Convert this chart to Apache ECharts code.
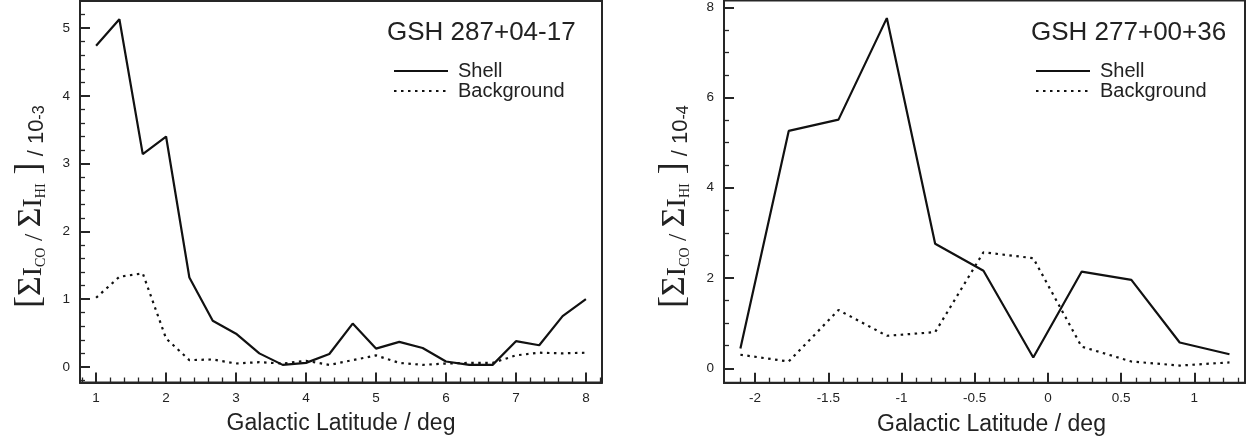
<!DOCTYPE html>
<html>
<head>
<meta charset="utf-8">
<script src="https://cdn.jsdelivr.net/npm/echarts@6/dist/echarts.min.js"></script>
<style>
html,body{margin:0;padding:0;background:#fff;}
#chart{width:1254px;height:444px;}
</style>
</head>
<body>
<div id="chart"></div>
<script>
// ---- Data: GSH 287+04-17 ----
const leftLatitude = [1, 1.333, 1.667, 2, 2.333, 2.667, 3, 3.333, 3.667, 4, 4.333, 4.667, 5, 5.333, 5.667, 6, 6.333, 6.667, 7, 7.333, 7.667, 8];
const leftShell = [4.74, 5.13, 3.14, 3.40, 1.32, 0.68, 0.49, 0.20, 0.03, 0.06, 0.19, 0.64, 0.27, 0.37, 0.28, 0.08, 0.03, 0.03, 0.38, 0.32, 0.75, 1.00];
const leftBackground = [1.02, 1.33, 1.38, 0.42, 0.10, 0.11, 0.05, 0.07, 0.05, 0.09, 0.03, 0.10, 0.17, 0.06, 0.03, 0.05, 0.06, 0.06, 0.17, 0.21, 0.20, 0.21];
const leftXTicks = [1, 2, 3, 4, 5, 6, 7, 8];
const leftYTicks = [0, 1, 2, 3, 4, 5];

// ---- Data: GSH 277+00+36 ----
const rightLatitude = [-2.1, -1.77, -1.43, -1.10, -0.77, -0.44, -0.10, 0.23, 0.57, 0.90, 1.24];
const rightShell = [0.44, 5.26, 5.51, 7.76, 2.76, 2.16, 0.24, 2.14, 1.96, 0.57, 0.31];
const rightBackground = [0.30, 0.15, 1.29, 0.72, 0.80, 2.57, 2.44, 0.48, 0.15, 0.06, 0.13];
const rightXTicks = [-2, -1.5, -1, -0.5, 0, 0.5, 1];
const rightYTicks = [0, 2, 4, 6, 8];

const titles = ['GSH 287+04-17', 'GSH 277+00+36'];
const seriesNames = ['Shell', 'Background'];
const xName = 'Galactic Latitude / deg';
const yExponents = ['-3', '-4'];

// ---- helpers (styling only) ----
function minorTicks(a, b, step, majorStep) {
  const out = [];
  const n = Math.round((b - a) / step);
  for (let i = 0; i <= n; i++) {
    const v = Math.round((a + i * step) * 1000) / 1000;
    const r = v / majorStep;
    if (Math.abs(r - Math.round(r)) > 1e-6) out.push(v);
  }
  return out;
}
const INK = '#111';
const FRAME = '#262626';
const TXT = '#222';
const SANS = '"Liberation Sans", Arial, Helvetica, sans-serif';
const SERIF = '"Liberation Serif", "Times New Roman", serif';

const richName = {
  br:   { fontFamily: SERIF, fontSize: 36, color: TXT, lineHeight: 47.8, verticalAlign: 'bottom' },
  sig:  { fontFamily: SERIF, fontSize: 34, color: TXT, lineHeight: 46.4, verticalAlign: 'bottom' },
  i:    { fontFamily: SERIF, fontSize: 28, color: TXT, lineHeight: 42.5, verticalAlign: 'bottom' },
  sub:  { fontFamily: SERIF, fontSize: 14, color: TXT, lineHeight: 29.2, verticalAlign: 'bottom' },
  sl:   { fontFamily: SERIF, fontSize: 26, color: TXT, lineHeight: 41.2, verticalAlign: 'bottom' },
  sans: { fontFamily: SANS, fontSize: 22, color: TXT, lineHeight: 38.5, verticalAlign: 'bottom' },
  sup:  { fontFamily: SANS, fontSize: 16, color: TXT, lineHeight: 46.6, verticalAlign: 'bottom' }
};
function yName(exp) {
  return '{br|[}{sig|Σ}{i|I}{sub|CO}{sl| / }{sig|Σ}{i|I}{sub|HI}{br| ]}{sans| / 10}{sup|' + exp + '}';
}

const grids = [
  { left: 80, top: 1, width: 522, height: 381.5, xmin: 0.77, xmax: 8.23, ymin: -0.23, ymax: 5.4,
    xTicks: leftXTicks, yTicks: leftYTicks, xNamePad: [0, 0, 0, 0],
    xMinor: minorTicks(0.8, 8.2, 0.2, 1), yMinor: minorTicks(-0.2, 5.2, 0.2, 1) },
  { left: 724, top: 0.5, width: 521, height: 382.2, xmin: -2.212, xmax: 1.346, ymin: -0.32, ymax: 8.15,
    xTicks: rightXTicks, yTicks: rightYTicks, xNamePad: [0, 0, 0, 14],
    xMinor: minorTicks(-2.1, 1.3, 0.1, 0.5), yMinor: minorTicks(0.5, 7.5, 0.5, 2) }
];

const xAxes = [], yAxes = [];
grids.forEach((g, gi) => {
  xAxes.push({
    type: 'value', gridIndex: gi, position: 'bottom', min: g.xmin, max: g.xmax,
    name: xName, nameLocation: 'middle', nameGap: 30, nameMoveOverlap: false,
    nameTextStyle: { fontFamily: SANS, fontSize: 23, color: TXT, padding: g.xNamePad },
    axisLine: { show: true, onZero: false, lineStyle: { color: FRAME, width: 2 } },
    axisTick: { show: true, inside: true, length: 10, customValues: g.xTicks, lineStyle: { color: FRAME, width: 2 } },
    axisLabel: { show: true, customValues: g.xTicks, margin: 9, fontFamily: SANS, fontSize: 13.5, color: TXT },
    splitLine: { show: false }
  });
  xAxes.push({
    type: 'value', gridIndex: gi, position: 'bottom', min: g.xmin, max: g.xmax,
    axisLine: { show: false, onZero: false },
    axisTick: { show: true, inside: true, length: 5, customValues: g.xMinor, lineStyle: { color: FRAME, width: 1.3 } },
    axisLabel: { show: false },
    splitLine: { show: false }
  });
  yAxes.push({
    type: 'value', gridIndex: gi, position: 'left', min: g.ymin, max: g.ymax,
    name: yName(yExponents[gi]), nameLocation: 'middle', nameRotate: 90, nameGap: 32, nameMoveOverlap: false,
    nameTextStyle: { rich: richName, padding: [0, 30, 0, 0] },
    axisLine: { show: true, onZero: false, lineStyle: { color: FRAME, width: 2 } },
    axisTick: { show: true, inside: true, length: 10, customValues: g.yTicks, lineStyle: { color: FRAME, width: 2 } },
    axisLabel: { show: true, customValues: g.yTicks, margin: 10, fontFamily: SANS, fontSize: 13.5, color: TXT },
    splitLine: { show: false }
  });
  yAxes.push({
    type: 'value', gridIndex: gi, position: 'left', min: g.ymin, max: g.ymax,
    axisLine: { show: false, onZero: false },
    axisTick: { show: true, inside: true, length: 5, customValues: g.yMinor, lineStyle: { color: FRAME, width: 1.3 } },
    axisLabel: { show: false },
    splitLine: { show: false }
  });
});

function lineSeries(name, xs, ys, gi, dotted) {
  return {
    name: name, type: 'line', xAxisIndex: gi * 2, yAxisIndex: gi * 2,
    data: xs.map((x, i) => [x, ys[i]]),
    showSymbol: false, symbol: 'none', silent: true, animation: false,
    lineStyle: dotted ? { color: INK, width: 2.2, type: [2.5, 4.5] } : { color: INK, width: 2.2 },
    itemStyle: { color: INK }
  };
}

function legendAt(left) {
  return {
    left: left, top: 61, orient: 'vertical', itemWidth: 54, itemHeight: 14, itemGap: 0, padding: 0,
    data: seriesNames, selectedMode: false,
    itemStyle: { opacity: 0 },
    textStyle: { fontFamily: SANS, fontSize: 20, color: TXT, lineHeight: 20, padding: [0, 0, 0, 5] }
  };
}

const option = {
  backgroundColor: '#fff',
  animation: false,
  grid: grids.map(g => ({ left: g.left, top: g.top, width: g.width, height: g.height,
    show: true, borderColor: FRAME, borderWidth: 2, backgroundColor: 'transparent',
    containLabel: false, outerBoundsMode: 'none' })),
  title: [
    { text: titles[0], left: 387, top: 20, padding: 0, textStyle: { fontFamily: SANS, fontSize: 26, fontWeight: 'normal', color: TXT } },
    { text: titles[1], left: 1031, top: 20, padding: 0, textStyle: { fontFamily: SANS, fontSize: 26, fontWeight: 'normal', color: TXT } }
  ],
  legend: [legendAt(393), legendAt(1035)],
  xAxis: xAxes,
  yAxis: yAxes,
  series: [
    lineSeries(seriesNames[0], leftLatitude, leftShell, 0, false),
    lineSeries(seriesNames[1], leftLatitude, leftBackground, 0, true),
    lineSeries(seriesNames[0], rightLatitude, rightShell, 1, false),
    lineSeries(seriesNames[1], rightLatitude, rightBackground, 1, true)
  ]
};

const chart = echarts.init(document.getElementById('chart'), null, { renderer: 'canvas' });
chart.setOption(option);
</script>
</body>
</html>
